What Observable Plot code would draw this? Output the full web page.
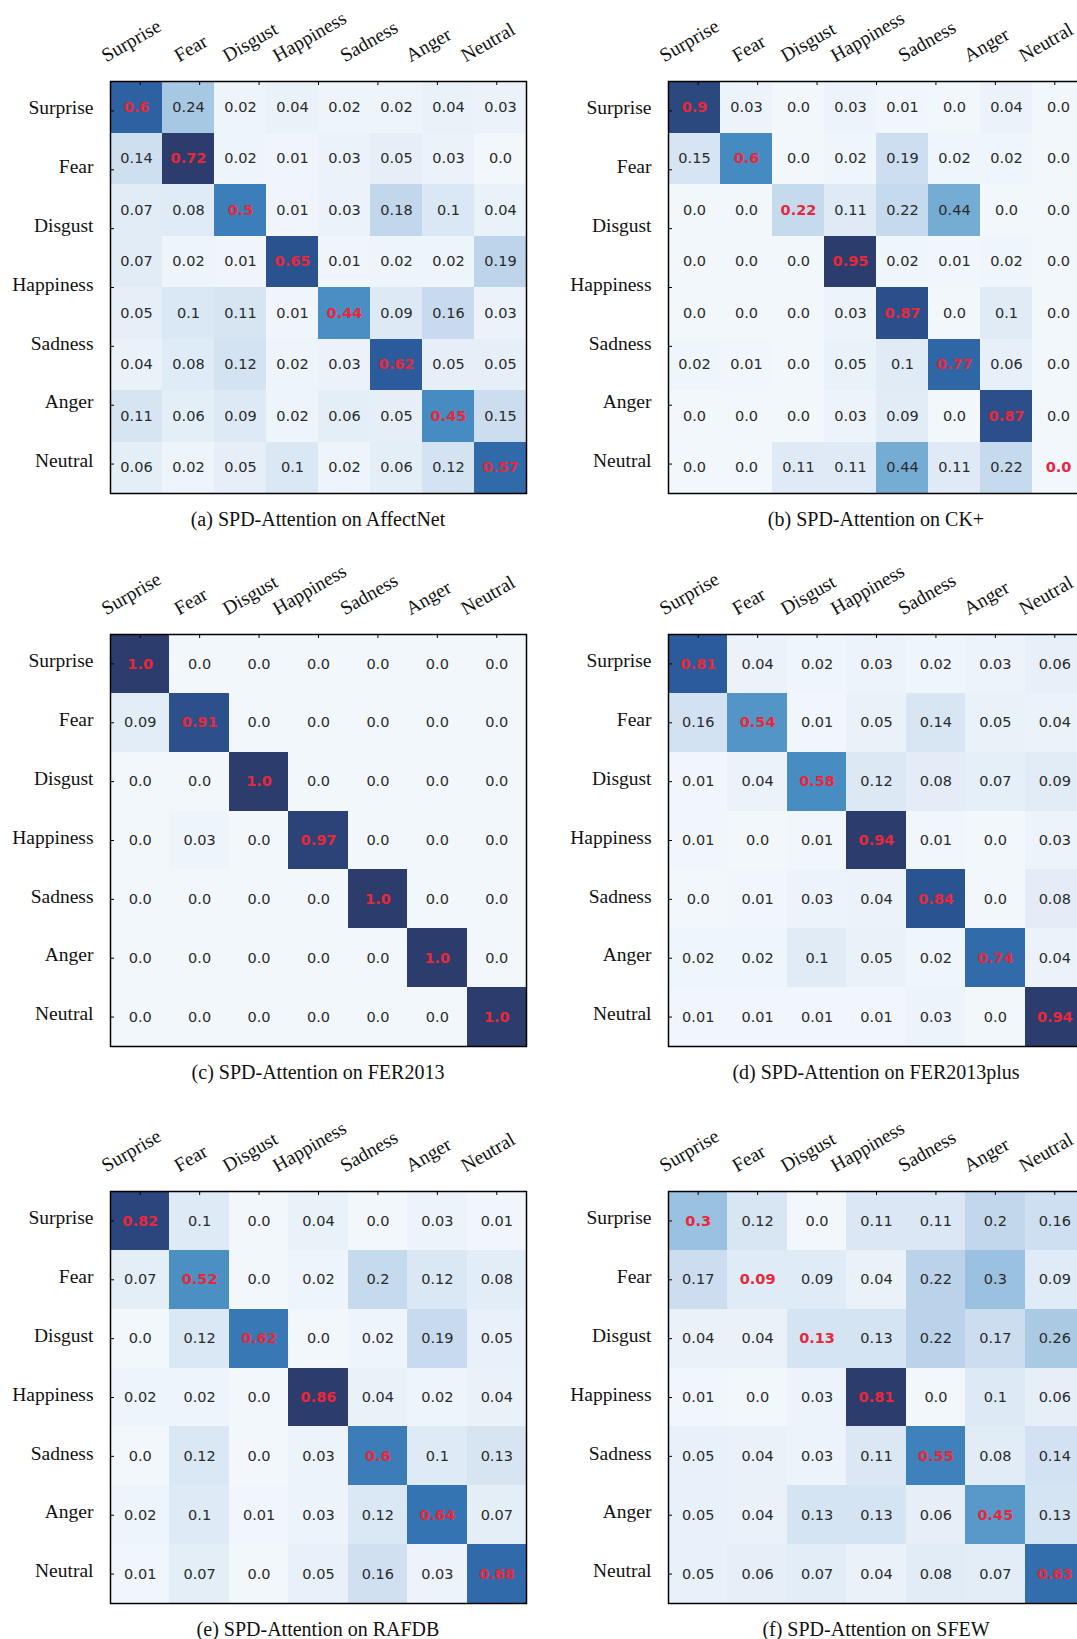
<!DOCTYPE html>
<html><head><meta charset="utf-8">
<script src="https://cdn.jsdelivr.net/npm/d3@7"></script>
<script src="https://cdn.jsdelivr.net/npm/@observablehq/plot@0.6"></script>
<style>
body{margin:0;background:#fff;}
#fig{position:relative;width:1077px;height:1639px;overflow:hidden;background:#fff;}
.panel{position:absolute;}
.panel svg{max-width:none !important;}
.cap{position:absolute;width:440px;text-align:center;font-family:"Liberation Serif","Times New Roman",serif;font-size:20px;line-height:20px;color:#111;white-space:nowrap;}
</style></head><body><div id="fig"></div>
<script>
// ---- data ----
const categories = ["Surprise", "Fear", "Disgust", "Happiness", "Sadness", "Anger", "Neutral"];

const affectnet = [
  [0.6, 0.24, 0.02, 0.04, 0.02, 0.02, 0.04, 0.03],
  [0.14, 0.72, 0.02, 0.01, 0.03, 0.05, 0.03, 0.0],
  [0.07, 0.08, 0.5, 0.01, 0.03, 0.18, 0.1, 0.04],
  [0.07, 0.02, 0.01, 0.65, 0.01, 0.02, 0.02, 0.19],
  [0.05, 0.1, 0.11, 0.01, 0.44, 0.09, 0.16, 0.03],
  [0.04, 0.08, 0.12, 0.02, 0.03, 0.62, 0.05, 0.05],
  [0.11, 0.06, 0.09, 0.02, 0.06, 0.05, 0.45, 0.15],
  [0.06, 0.02, 0.05, 0.1, 0.02, 0.06, 0.12, 0.57]
];
const ckplus = [
  [0.9, 0.03, 0.0, 0.03, 0.01, 0.0, 0.04, 0.0],
  [0.15, 0.6, 0.0, 0.02, 0.19, 0.02, 0.02, 0.0],
  [0.0, 0.0, 0.22, 0.11, 0.22, 0.44, 0.0, 0.0],
  [0.0, 0.0, 0.0, 0.95, 0.02, 0.01, 0.02, 0.0],
  [0.0, 0.0, 0.0, 0.03, 0.87, 0.0, 0.1, 0.0],
  [0.02, 0.01, 0.0, 0.05, 0.1, 0.77, 0.06, 0.0],
  [0.0, 0.0, 0.0, 0.03, 0.09, 0.0, 0.87, 0.0],
  [0.0, 0.0, 0.11, 0.11, 0.44, 0.11, 0.22, 0.0]
];
const fer2013 = [
  [1.0, 0.0, 0.0, 0.0, 0.0, 0.0, 0.0],
  [0.09, 0.91, 0.0, 0.0, 0.0, 0.0, 0.0],
  [0.0, 0.0, 1.0, 0.0, 0.0, 0.0, 0.0],
  [0.0, 0.03, 0.0, 0.97, 0.0, 0.0, 0.0],
  [0.0, 0.0, 0.0, 0.0, 1.0, 0.0, 0.0],
  [0.0, 0.0, 0.0, 0.0, 0.0, 1.0, 0.0],
  [0.0, 0.0, 0.0, 0.0, 0.0, 0.0, 1.0]
];
const fer2013plus = [
  [0.81, 0.04, 0.02, 0.03, 0.02, 0.03, 0.06],
  [0.16, 0.54, 0.01, 0.05, 0.14, 0.05, 0.04],
  [0.01, 0.04, 0.58, 0.12, 0.08, 0.07, 0.09],
  [0.01, 0.0, 0.01, 0.94, 0.01, 0.0, 0.03],
  [0.0, 0.01, 0.03, 0.04, 0.84, 0.0, 0.08],
  [0.02, 0.02, 0.1, 0.05, 0.02, 0.74, 0.04],
  [0.01, 0.01, 0.01, 0.01, 0.03, 0.0, 0.94]
];
const rafdb = [
  [0.82, 0.1, 0.0, 0.04, 0.0, 0.03, 0.01],
  [0.07, 0.52, 0.0, 0.02, 0.2, 0.12, 0.08],
  [0.0, 0.12, 0.62, 0.0, 0.02, 0.19, 0.05],
  [0.02, 0.02, 0.0, 0.86, 0.04, 0.02, 0.04],
  [0.0, 0.12, 0.0, 0.03, 0.6, 0.1, 0.13],
  [0.02, 0.1, 0.01, 0.03, 0.12, 0.64, 0.07],
  [0.01, 0.07, 0.0, 0.05, 0.16, 0.03, 0.68]
];
const sfew = [
  [0.3, 0.12, 0.0, 0.11, 0.11, 0.2, 0.16],
  [0.17, 0.09, 0.09, 0.04, 0.22, 0.3, 0.09],
  [0.04, 0.04, 0.13, 0.13, 0.22, 0.17, 0.26],
  [0.01, 0.0, 0.03, 0.81, 0.0, 0.1, 0.06],
  [0.05, 0.04, 0.03, 0.11, 0.55, 0.08, 0.14],
  [0.05, 0.04, 0.13, 0.13, 0.06, 0.45, 0.13],
  [0.05, 0.06, 0.07, 0.04, 0.08, 0.07, 0.63]
];
const captions = [
  "(a) SPD-Attention on AffectNet",
  "(b) SPD-Attention on CK+",
  "(c) SPD-Attention on FER2013",
  "(d) SPD-Attention on FER2013plus",
  "(e) SPD-Attention on RAFDB",
  "(f) SPD-Attention on SFEW"
];
const matrices = [affectnet, ckplus, fer2013, fer2013plus, rafdb, sfew];

// ---- layout / style ----
const frameW = 416, frameH = 412;
const mLeft = 110, mTop = 81, mRight = 30, mBottom = 10;
const frameLefts = [110, 668];
const frameTops = [81, 634, 1191];
const labelFont = "'Liberation Serif', 'Times New Roman', serif";
const labelSize = 19.5;
const valueFont = "'DejaVu Sans', Verdana, sans-serif";
const valueSize = 14.5;
const diagRed = "#e8283a";
const blueStops = ["#f2f7fc", "#dde9f5", "#c2d7ec", "#98c0de", "#67a4d0", "#468bc1", "#3473b2", "#2a5898", "#2c3c6c"];
const blues = d3.piecewise(d3.interpolateRgb, blueStops);

const canvas = document.createElement("canvas");
const ctx = canvas.getContext("2d");
ctx.font = `${labelSize}px ${labelFont}`;

const fmt = v => { const s = String(v); return s.includes(".") ? s : s + ".0"; };

const fig = document.getElementById("fig");

matrices.forEach((values, k) => {
  const n = values.length;
  const ux = frameW / n, uy = frameH / n;
  const cells = values.flatMap((row, r) => row.map((v, c) => ({r, c, v})));
  const offDiag = cells.filter(d => d.r !== d.c);
  const diag = cells.filter(d => d.r === d.c);
  const max = d3.max(cells, d => d.v);
  const ticks = categories.map((label, i) => ({label, pos: (i + 0.5) * n / categories.length}));
  ticks.forEach(t => { t.w = ctx.measureText(t.label).width; });
  const W = mLeft + frameW + mRight, H = mTop + frameH + mBottom;

  const chart = Plot.plot({
    width: W,
    height: H,
    marginLeft: mLeft, marginRight: mRight, marginTop: mTop, marginBottom: mBottom,
    x: {domain: [0, n], axis: null},
    y: {domain: [0, n], reverse: true, axis: null},
    color: {type: "linear", domain: [0, max], interpolate: blues},
    style: {background: "transparent", overflow: "visible", maxWidth: "none"},
    marks: [
      Plot.rect(cells, {x1: "c", x2: d => d.c + 1, y1: "r", y2: d => d.r + 1, fill: "v", shapeRendering: "crispEdges"}),
      Plot.text(offDiag, {
        x: d => d.c + 0.5, y: d => d.r + 0.5, text: d => fmt(d.v),
        fill: "#2a2a2a", fontSize: valueSize, fontFamily: valueFont
      }),
      Plot.text(diag, {
        x: d => d.c + 0.5, y: d => d.r + 0.5, text: d => fmt(d.v),
        fill: diagRed, fontWeight: "bold", fontSize: valueSize, fontFamily: valueFont
      }),
      Plot.ruleX(ticks, {x: "pos", y1: 0, y2: 4 / uy, stroke: "#000", strokeWidth: 1}),
      Plot.ruleY(ticks, {y: "pos", x1: 0, x2: 4 / ux, stroke: "#000", strokeWidth: 1}),
      Plot.frame({stroke: "#000", strokeWidth: 1.5}),
      Plot.text(ticks, {
        y: "pos", text: "label", frameAnchor: "left", textAnchor: "end", dx: -17, dy: -3,
        fontSize: labelSize, fontFamily: labelFont, fill: "#111"
      }),
      Plot.text(ticks, {
        x: d => d.pos - (0.433 * d.w + 5.75) / ux, text: "label",
        frameAnchor: "top", textAnchor: "start", lineAnchor: "bottom", rotate: -30, dy: -19,
        fontSize: labelSize, fontFamily: labelFont, fill: "#111"
      })
    ]
  });
  chart.style.maxWidth = "none";
  chart.setAttribute("width", W);
  chart.setAttribute("height", H);

  const col = k % 2, row = Math.floor(k / 2);
  const left = frameLefts[col], top = frameTops[row];
  const holder = document.createElement("div");
  holder.className = "panel";
  holder.style.left = (left - mLeft) + "px";
  holder.style.top = (top - mTop) + "px";
  holder.style.width = W + "px";
  holder.style.height = H + "px";
  holder.appendChild(chart);
  fig.appendChild(holder);

  const cap = document.createElement("div");
  cap.className = "cap";
  cap.textContent = captions[k];
  cap.style.left = (left + frameW / 2 - 220) + "px";
  cap.style.top = (top + frameH + 26 - 10) + "px";
  fig.appendChild(cap);
});
</script>
</body></html>
